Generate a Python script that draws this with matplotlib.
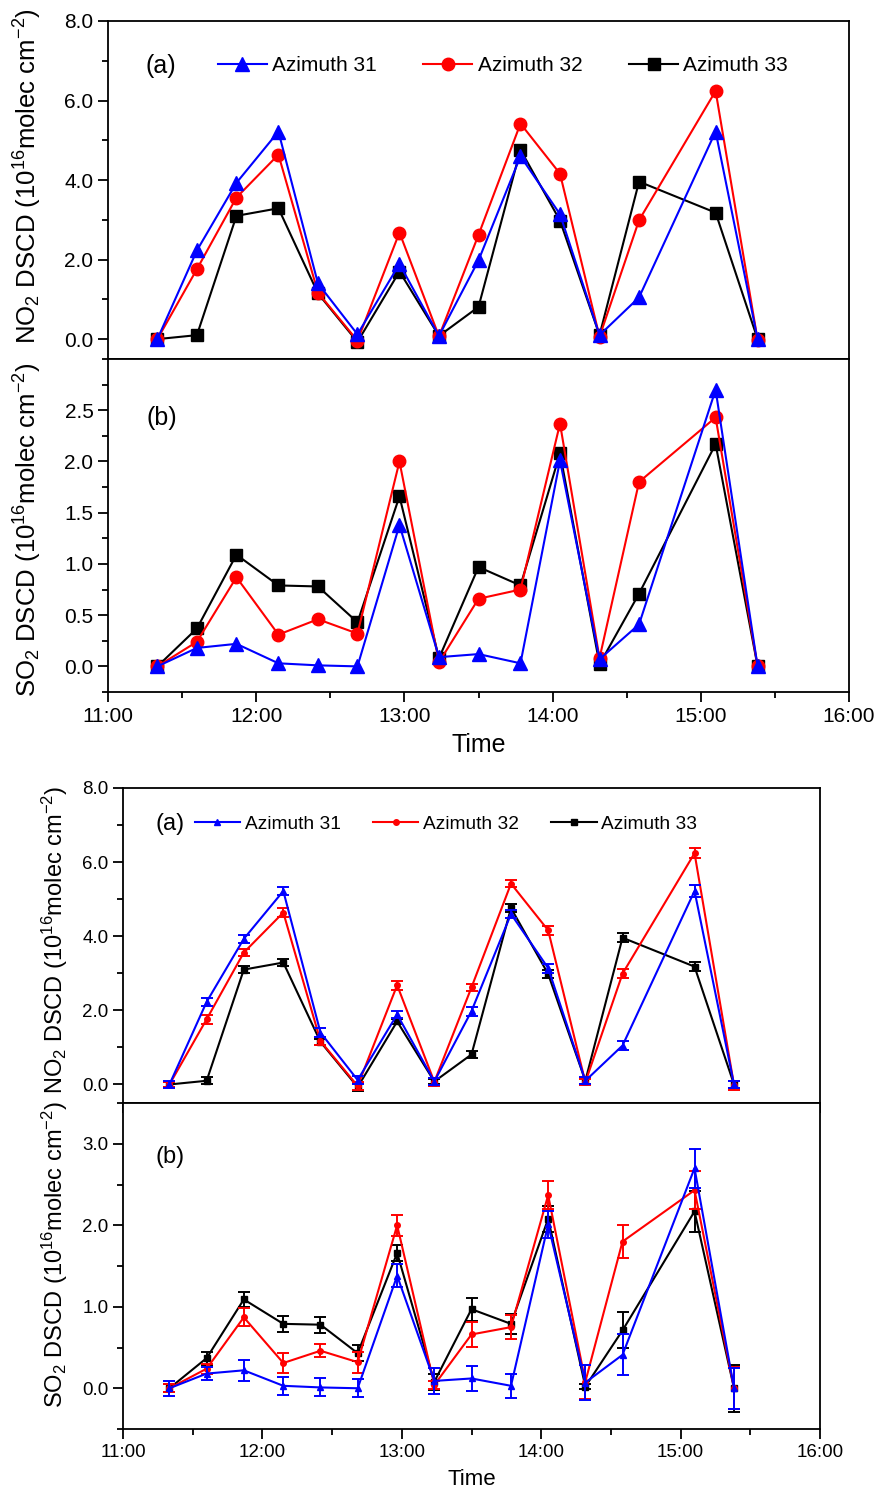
import numpy as np
import matplotlib
matplotlib.use('Agg')
import matplotlib.pyplot as plt
from matplotlib.ticker import MultipleLocator, FormatStrFormatter

plt.rcParams['font.family'] = ['Liberation Sans', 'DejaVu Sans']
plt.rcParams['mathtext.default'] = 'regular'

times = ['11:20', '11:36', '11:52', '12:09', '12:25', '12:41', '12:58', '13:14',
         '13:30', '13:47', '14:03', '14:19', '14:35', '15:06', '15:23']
labels = ['Azimuth 31', 'Azimuth 32', 'Azimuth 33']

no2_az31 = [0.00, 2.23, 3.93, 5.22, 1.40, 0.12, 1.89, 0.08, 1.98, 4.60, 3.14, 0.10, 1.05, 5.22, 0.00]
no2_az32 = [0.00, 1.76, 3.56, 4.64, 1.17, -0.04, 2.68, 0.07, 2.62, 5.42, 4.16, 0.06, 2.99, 6.24, -0.02]
no2_az33 = [0.00, 0.10, 3.10, 3.29, 1.15, -0.07, 1.70, 0.08, 0.81, 4.76, 2.98, 0.10, 3.96, 3.18, 0.00]

so2_az31 = [0.00, 0.18, 0.22, 0.03, 0.01, 0.00, 1.38, 0.09, 0.12, 0.03, 2.01, 0.07, 0.41, 2.70, 0.00]
so2_az32 = [0.00, 0.24, 0.87, 0.31, 0.46, 0.32, 2.00, 0.04, 0.66, 0.75, 2.37, 0.08, 1.80, 2.43, 0.00]
so2_az33 = [0.00, 0.37, 1.09, 0.79, 0.78, 0.43, 1.66, 0.08, 0.97, 0.79, 2.08, 0.02, 0.71, 2.17, 0.00]

# measurement uncertainties
no2_err31 = [0.10, 0.10, 0.10, 0.12, 0.12, 0.10, 0.10, 0.10, 0.12, 0.12, 0.12, 0.10, 0.13, 0.15, 0.10]
no2_err32 = [0.08, 0.12, 0.10, 0.12, 0.10, 0.10, 0.12, 0.10, 0.10, 0.10, 0.12, 0.08, 0.13, 0.13, 0.12]
no2_err33 = [0.08, 0.10, 0.10, 0.10, 0.08, 0.10, 0.08, 0.08, 0.10, 0.10, 0.12, 0.08, 0.12, 0.12, 0.10]

so2_err31 = [0.09, 0.08, 0.13, 0.11, 0.11, 0.11, 0.14, 0.16, 0.15, 0.15, 0.17, 0.21, 0.25, 0.24, 0.25]
so2_err32 = [0.05, 0.06, 0.11, 0.12, 0.08, 0.13, 0.13, 0.05, 0.15, 0.15, 0.17, 0.21, 0.20, 0.23, 0.26]
so2_err33 = [0.05, 0.08, 0.09, 0.10, 0.10, 0.10, 0.10, 0.10, 0.14, 0.12, 0.16, 0.03, 0.22, 0.25, 0.29]

hour_ticks = [11, 12, 13, 14, 15, 16]

x = np.array([int(t[:2]) + int(t[3:]) / 60 for t in times])
colors = ['#0000ff', '#ff0000', '#000000']
markers = ['^', 'o', 's']
zorders = [5, 4, 3]

W, H = 878, 1489
fig = plt.figure(figsize=(W / 100, H / 100), dpi=100)


def box(left, right, top, bottom):
    return [left / W, 1 - bottom / H, (right - left) / W, (bottom - top) / H]


def style(ax, ylim, major, minor, fs, show_x):
    ax.set_xlim(11, 16)
    ax.set_ylim(*ylim)
    ax.xaxis.set_major_locator(MultipleLocator(1))
    ax.xaxis.set_minor_locator(MultipleLocator(0.5))
    ax.yaxis.set_major_locator(MultipleLocator(major))
    ax.yaxis.set_minor_locator(MultipleLocator(minor))
    ax.yaxis.set_major_formatter(FormatStrFormatter('%.1f'))
    ax.set_xticks(hour_ticks)
    ax.set_xticklabels(['%d:00' % h for h in hour_ticks])
    ax.tick_params(which='major', length=7, width=1.3, labelsize=fs, direction='out')
    ax.tick_params(which='minor', length=4, width=1.3, direction='out')
    if not show_x:
        ax.tick_params(axis='x', which='both', labelbottom=False)
    for s in ax.spines.values():
        s.set_linewidth(1.3)


# ---- upper figure: markers only ----
ax1 = fig.add_axes(box(108, 849, 21, 359))
ax2 = fig.add_axes(box(108, 849, 359, 692))

no2 = [no2_az31, no2_az32, no2_az33]
so2 = [so2_az31, so2_az32, so2_az33]
msizes = [10, 9, 8]
for i in range(3):
    ax1.plot(x, no2[i], color=colors[i], marker=markers[i], ms=msizes[i], lw=1.5,
             label=labels[i], zorder=zorders[i])
    ax2.plot(x, so2[i], color=colors[i], marker=markers[i], ms=msizes[i], lw=1.5,
             zorder=zorders[i])

style(ax1, (-0.5, 8.0), 2, 1, 15, False)
ax1.tick_params(axis='x', which='both', length=0)
style(ax2, (-0.25, 3.0), 0.5, 0.25, 15, True)
ax2.set_yticks([0, 0.5, 1.0, 1.5, 2.0, 2.5])

ax1.set_ylabel(r'NO$_2$ DSCD (10$^{16}$molec cm$^{-2}$)', fontsize=18.5)
ax2.set_ylabel(r'SO$_2$ DSCD (10$^{16}$molec cm$^{-2}$)', fontsize=18.5)
ax1.yaxis.set_label_coords(-0.087, 0.541)
ax2.yaxis.set_label_coords(-0.087, 0.486)
ax2.set_xlabel('Time', fontsize=18, labelpad=5)

ax1.text(0.05, 0.867, '(a)', transform=ax1.transAxes, fontsize=18, va='center')
ax2.text(0.052, 0.823, '(b)', transform=ax2.transAxes, fontsize=18, va='center')
ax1.legend(loc='center left', bbox_to_anchor=(0.148, 0.867), ncol=3, frameon=False,
           fontsize=15, handlelength=2.35, handletextpad=0.25, columnspacing=2.25,
           borderpad=0, borderaxespad=0)

# ---- lower figure: with error bars ----
ax3 = fig.add_axes(box(123, 820, 788, 1103))
ax4 = fig.add_axes(box(123, 820, 1103, 1429))

no2_err = [no2_err31, no2_err32, no2_err33]
so2_err = [so2_err31, so2_err32, so2_err33]
for i in range(3):
    ax3.plot(x, no2[i], color=colors[i], marker=markers[i], ms=4, lw=1.5,
             label=labels[i], zorder=zorders[i])
    ax3.errorbar(x, no2[i], yerr=no2_err[i], fmt='none', ecolor=colors[i],
                 elinewidth=1.4, capsize=4.5, capthick=1.4, zorder=zorders[i])
    ax4.plot(x, so2[i], color=colors[i], marker=markers[i], ms=4, lw=1.5,
             zorder=zorders[i])
    ax4.errorbar(x, so2[i], yerr=so2_err[i], fmt='none', ecolor=colors[i],
                 elinewidth=1.4, capsize=4.5, capthick=1.4, zorder=zorders[i])

style(ax3, (-0.5, 8.0), 2, 1, 13.5, False)
style(ax4, (-0.5, 3.5), 1, 0.5, 13.5, True)
ax4.set_yticks([0, 1.0, 2.0, 3.0])

ax3.set_ylabel(r'NO$_2$ DSCD (10$^{16}$molec cm$^{-2}$)', fontsize=17)
ax4.set_ylabel(r'SO$_2$ DSCD (10$^{16}$molec cm$^{-2}$)', fontsize=17)
ax3.yaxis.set_label_coords(-0.076, 0.517)
ax4.yaxis.set_label_coords(-0.076, 0.534)
ax4.set_xlabel('Time', fontsize=16, labelpad=6)

ax3.text(0.046, 0.886, '(a)', transform=ax3.transAxes, fontsize=17, va='center')
ax4.text(0.046, 0.834, '(b)', transform=ax4.transAxes, fontsize=17, va='center')
ax3.legend(loc='center left', bbox_to_anchor=(0.103, 0.886), ncol=3, frameon=False,
           fontsize=13.8, handlelength=2.35, handletextpad=0.25, columnspacing=1.7,
           borderpad=0, borderaxespad=0)

fig.savefig('out.png', dpi=100)
